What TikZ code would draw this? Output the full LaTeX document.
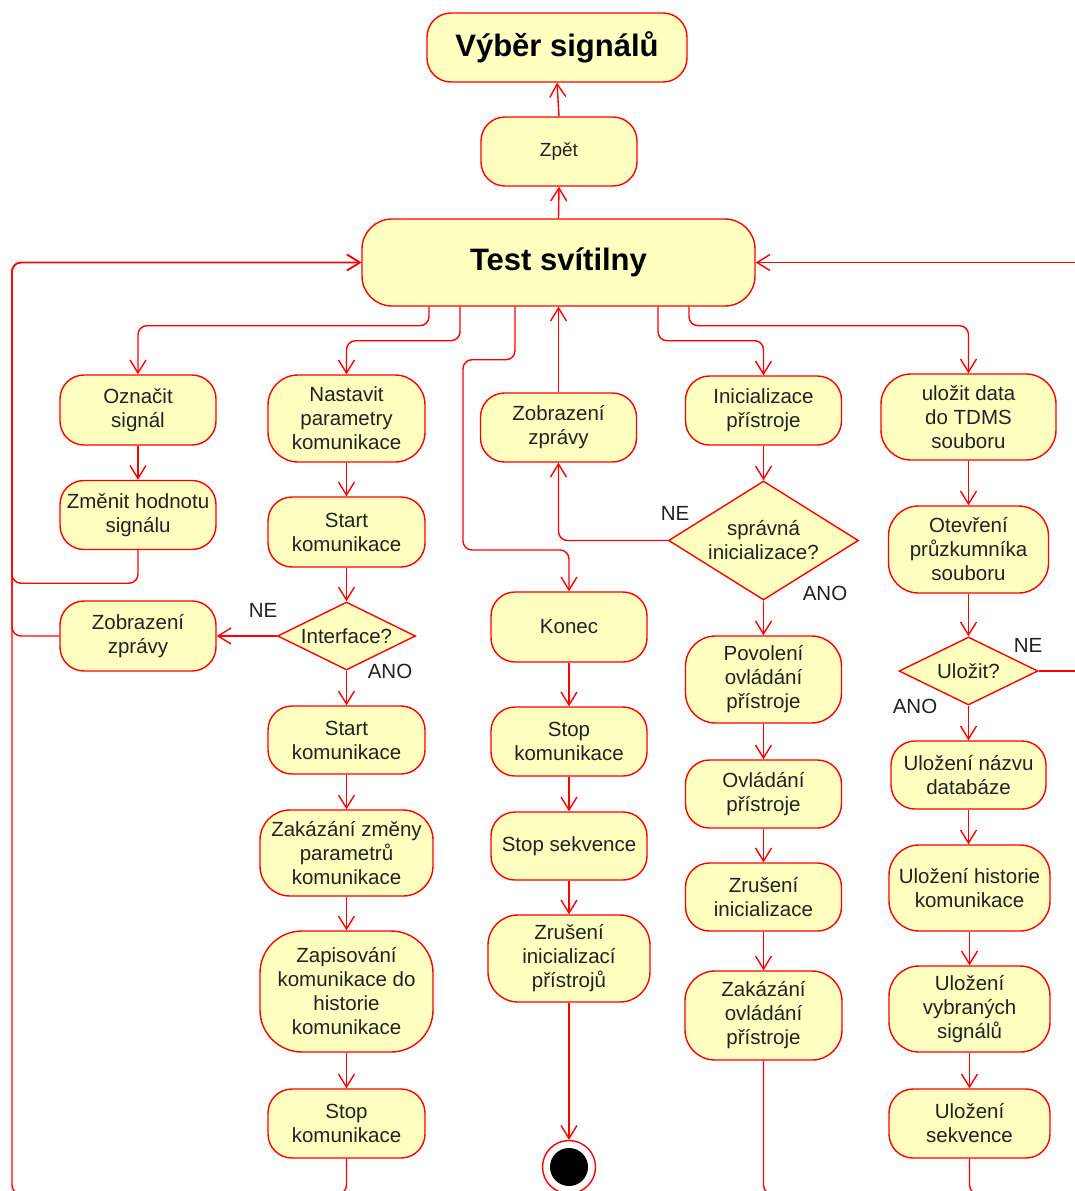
\documentclass[tikz,border=0pt]{standalone}
\usepackage{fontspec}
\setmainfont{Liberation Sans}
\usetikzlibrary{arrows.meta,shapes.geometric}
\definecolor{actfill}{HTML}{FFFFC0}
\definecolor{txt}{HTML}{222222}
\definecolor{ured}{HTML}{FF0000}
\begin{document}
\begin{tikzpicture}[x=1pt,y=-1pt,
  font=\fontsize{20.5}{24}\selectfont, text=txt,
  act/.style n args={3}{draw=ured, fill=actfill, line width=1.4pt, rectangle, rounded corners=#3pt, minimum width=#1pt, minimum height=#2pt, inner sep=0pt, align=center},
  dia/.style 2 args={draw=ured, fill=actfill, line width=1.4pt, diamond, minimum width=#1pt, minimum height=#2pt, inner sep=0pt},
  conn/.style={draw=ured, line width=1.4pt, rounded corners=9pt},
  arr/.style={conn, -{Straight Barb[length=13pt,width=16pt]}},
  big/.style={font=\fontsize{31}{36}\selectfont\bfseries, text=black}]

\fill[white] (0,0) rectangle (1075,1191);
\useasboundingbox (0,0) rectangle (1075,1191);
\clip (0,0) rectangle (1075,1191);

% top
\node[act={260}{69}{24}, big] (vyber) at (557,47.5) {Výběr signálů};
\node[act={156}{69}{24}, font=\fontsize{19}{24}\selectfont] (zpet) at (559,151.5) {Zpět};
\node[act={393}{87}{30}, big] (test) at (558.5,262.5) {Test svítilny};

% column 1
\node[act={156}{70}{24}] (oz) at (138,410) {Označit\\signál};
\node[act={156}{69}{24}] (zm) at (138,515) {Změnit hodnotu\\signálu};
\node[act={156}{70}{24}] (zob1) at (138,636) {Zobrazení\\zprávy};

% column 2
\node[act={157}{87}{30}] (nast) at (346.5,418.5) {Nastavit\\parametry\\komunikace};
\node[act={157}{70}{24}] (start1) at (346.5,532) {Start\\komunikace};
\node[dia={138}{68}, label={[align=center]center:Interface?}] (iface) at (346.5,636) {};
\node[act={157}{68}{24}] (start2) at (346.5,740) {Start\\komunikace};
\node[act={173}{86}{30}] (zak) at (346.5,853) {Zakázání změny\\parametrů\\komunikace};
\node[act={173}{121}{42}] (zap) at (346.5,991.5) {Zapisování\\komunikace do\\historie\\komunikace};
\node[act={157}{69}{24}] (stop1) at (346.5,1123.5) {Stop\\komunikace};

% column 3
\node[act={156}{69}{24}] (zob2) at (558.5,427.5) {Zobrazení\\zprávy};
\node[act={156}{70}{24}] (konec) at (569,627) {Konec};
\node[act={156}{69}{24}] (stop2) at (569,741.5) {Stop\\komunikace};
\node[act={156}{68}{24}] (stopsek) at (569,846) {Stop sekvence};
\node[act={162}{87}{30}] (zrusi) at (569,958.5) {Zrušení\\inicializací\\přístrojů};
\node[circle, draw=ured, fill=white, line width=1.4pt, minimum size=53pt, inner sep=0pt,
  path picture={\fill[black] (path picture bounding box.center) circle (19pt);}] (fin) at (569,1167) {};

% column 4
\node[act={156}{69}{24}] (init) at (763.5,410.5) {Inicializace\\přístroje};
\node[dia={190}{119}, label={[align=center]center:správná\\inicializace?}] (sprav) at (763.5,540.5) {};
\node[act={156}{87}{30}] (pov) at (763.5,679.5) {Povolení\\ovládání\\přístroje};
\node[act={156}{68}{24}] (ovl) at (763.5,794) {Ovládání\\přístroje};
\node[act={156}{68}{24}] (zrus) at (763.5,897) {Zrušení\\inicializace};
\node[act={157}{89}{30}] (zakov) at (763.5,1015.5) {Zakázání\\ovládání\\přístroje};

% column 5
\node[act={175}{86}{30}] (uloz) at (968.5,417) {uložit data\\do TDMS\\souboru};
\node[act={160}{87}{30}] (otev) at (968.5,549.5) {Otevření\\průzkumníka\\souboru};
\node[dia={139}{68}, label={[align=center]center:Uložit?}] (ulq) at (968.5,671) {};
\node[act={155}{68}{24}] (unaz) at (968.5,775) {Uložení názvu\\databáze};
\node[act={161}{86}{30}] (uhist) at (969.5,888) {Uložení historie\\komunikace};
\node[act={161}{86}{30}] (uvyb) at (969.5,1009) {Uložení\\vybraných\\signálů};
\node[act={161}{69}{24}] (usek) at (969.5,1123.5) {Uložení\\sekvence};

% decision labels
\node (ne1) at (263,610) {NE};
\node (ano1) at (390,671) {ANO};
\node (ne2) at (675,513) {NE};
\node (ano2) at (825,593) {ANO};
\node (ne3) at (1028,645) {NE};
\node (ano3) at (915,706) {ANO};

% free ends
\coordinate (rin) at (1090,262.5);
\coordinate (rne) at (1090,671);
\coordinate (lcol) at (12,262.5);
\coordinate (b1) at (820,1194);
\coordinate (b2) at (1090,1194);

% top connectors
\draw[arr] (zpet.north) -- (vyber.south);
\draw[arr] (test.north) -- (zpet.south);
\draw[arr] (rin) -- (test.east);

% from Test
\draw[arr] ([xshift=-129.5pt]test.south) -- ++(0,19) -| (oz.north);
\draw[arr] ([xshift=-98.5pt]test.south) -- ++(0,34) -| (nast.north);
\draw[arr] ([xshift=-43.5pt]test.south) -- ++(0,53) -| (463,550) -| (konec.north);
\draw[arr] ([xshift=99.5pt]test.south) -- ++(0,34) -| (init.north);
\draw[arr] ([xshift=130.5pt]test.south) -- ++(0,19) -| (uloz.north);
\draw[arr] (zob2.north) -- (test.south -| zob2.north);

% column 1
\draw[arr] (oz.south) -- (zm.north);
\draw[arr] (zm.south) -- ++(0,33) -| (lcol) -- (test.west);
\draw[arr] (zob1.west) -| (lcol) -- (test.west);

% column 2
\draw[arr] (nast.south) -- (start1.north);
\draw[arr] (start1.south) -- (iface.north);
\draw[arr] (iface.west) -- (zob1.east);
\draw[arr] (iface.south) -- (start2.north);
\draw[arr] (start2.south) -- (zak.north);
\draw[arr] (zak.south) -- (zap.north);
\draw[arr] (zap.south) -- (stop1.north);
\draw[arr] (stop1.south) -- (346.5,1194) -| (lcol) -- (test.west);

% column 3
\draw[arr] (konec.south) -- (stop2.north);
\draw[arr] (stop2.south) -- (stopsek.north);
\draw[arr] (stopsek.south) -- (zrusi.north);
\draw[arr] (zrusi.south) -- (fin.north);

% column 4
\draw[arr] (init.south) -- (sprav.north);
\draw[arr] (sprav.west) -| (zob2.south);
\draw[arr] (sprav.south) -- (pov.north);
\draw[arr] (pov.south) -- (ovl.north);
\draw[arr] (ovl.south) -- (zrus.north);
\draw[arr] (zrus.south) -- (zakov.north);
\draw[conn] (zakov.south) |- (b1);

% column 5
\draw[arr] (uloz.south) -- (otev.north);
\draw[arr] (otev.south) -- (ulq.north);
\draw[conn] (ulq.east) -- (rne);
\draw[arr] (ulq.south) -- (unaz.north);
\draw[arr] (unaz.south) -- (unaz.south |- uhist.north);
\draw[arr] (uhist.south) -- (uvyb.north);
\draw[arr] (uvyb.south) -- (usek.north);
\draw[conn] (usek.south) |- (b2);
\end{tikzpicture}
\end{document}
